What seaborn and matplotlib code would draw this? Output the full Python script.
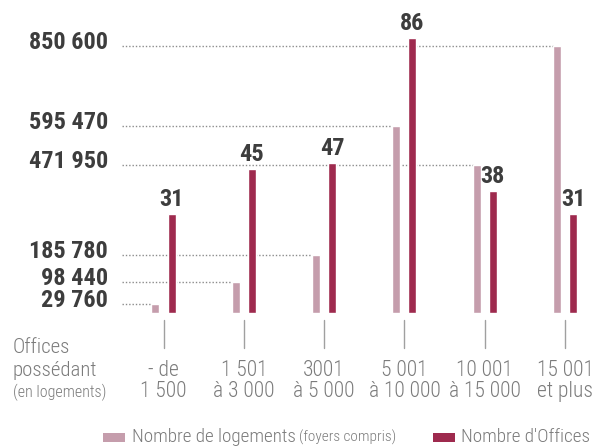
import numpy as np
import pandas as pd
import matplotlib
matplotlib.use("Agg")
import matplotlib.pyplot as plt
import seaborn as sns
from matplotlib import font_manager as fm
from matplotlib.transforms import blended_transform_factory
from matplotlib.patches import Rectangle
from matplotlib.lines import Line2D

# ---- data ----
cat_line1 = ["- de", "1 501", "3001", "5 001", "10 001", "15 001"]
cat_line2 = ["1 500", "à 3 000", "à 5 000", "à 10 000", "à 15 000", "et plus"]
logements = [29760, 98440, 185780, 595470, 471950, 850600]
offices = [31, 45, 47, 86, 38, 31]
axis_title = ["Offices", "possédant", "(en logements)"]
legend_main = ["Nombre de logements", "Nombre d'Offices"]
legend_note = "(foyers compris)"

# ---- style ----
PINK = "#c59dac"
RED = "#9e2a4e"
DARK = "#3d3d3d"
GREY = "#7b7b7b"
DOT = "#8c8c8c"
TICK = "#a0a0a0"

sns.set_theme(style="white")
names = {f.name for f in fm.fontManager.ttflist}
cond = None
for n in ["Roboto Condensed", "Liberation Sans Narrow", "Open Sans Condensed",
          "DejaVu Sans Condensed", "Noto Sans Condensed", "Arial Narrow"]:
    if n in names:
        cond = n
        break
plt.rcParams["font.family"] = [cond or "DejaVu Sans", "DejaVu Sans"]
LIGHT = "light" if cond else "normal"

W, H = 596, 447
fig = plt.figure(figsize=(W / 100, H / 100), dpi=100)
base_px, top_px = 313, 20
ax = fig.add_axes([0, (H - base_px) / H, 1, (base_px - top_px) / H])
ax2 = ax.twinx()

x0_px, step_px = 163.5, 80.3
def px2x(px):
    return (px - x0_px) / step_px

pos = np.arange(len(logements))
df = pd.DataFrame({"pos": pos, "logements": logements, "offices": offices})

sns.barplot(data=df.assign(x=df["pos"] - 0.1), x="x", y="logements",
            native_scale=True, width=0.1, color=PINK, saturation=1,
            errorbar=None, ax=ax, zorder=2)
sns.barplot(data=df.assign(x=df["pos"] + 0.1), x="x", y="offices",
            native_scale=True, width=0.1, color=RED, saturation=1,
            errorbar=None, ax=ax2, zorder=2)

ax.set_xlim(px2x(0), px2x(W))
ax.set_ylim(0, (base_px - top_px) / 267.0 * 850600)
ax2.set_ylim(0, (base_px - top_px) / ((base_px - 38) / 86.0))
for a in (ax, ax2):
    a.axis("off")

# dotted guides + left value labels
for i, v in enumerate(logements):
    ax.plot([px2x(122), i - 0.15], [v, v], color=DOT, lw=1,
            ls=(0, (1, 1.4)), zorder=1)
    ax.annotate(f"{v:,}".replace(",", " "), xy=(px2x(108), v),
                xytext=(0, -3 * 0.72), textcoords="offset points",
                ha="right", va="baseline", fontsize=17.5, weight="bold",
                color=DARK, annotation_clip=False)

# value labels on office bars
for i, v in enumerate(offices):
    ax2.annotate(str(v), xy=(i + 0.1, v), xytext=(0, 8 * 0.72),
                 textcoords="offset points", ha="center", va="baseline",
                 fontsize=17.5, weight="bold", color=DARK,
                 annotation_clip=False)

# category ticks and labels
blend = blended_transform_factory(ax.transData, fig.transFigure)
for i in pos:
    fig.add_artist(Line2D([i, i], [1 - 320 / H, 1 - 348 / H], transform=blend,
                          color=TICK, lw=1))
    ax.text(i, 1 - 376 / H, cat_line1[i], transform=blend, ha="center",
            va="baseline", fontsize=15.5, color=GREY, weight=LIGHT)
    ax.text(i, 1 - 397 / H, cat_line2[i], transform=blend, ha="center",
            va="baseline", fontsize=15.5, color=GREY, weight=LIGHT)

fig.text(13 / W, 1 - 353 / H, axis_title[0], ha="left", va="baseline",
         fontsize=15, color=GREY, weight=LIGHT)
fig.text(13 / W, 1 - 376 / H, axis_title[1], ha="left", va="baseline",
         fontsize=15, color=GREY, weight=LIGHT)
fig.text(13 / W, 1 - 397 / H, axis_title[2], ha="left", va="baseline",
         fontsize=11.5, color=GREY, weight=LIGHT)

# legend
fig.add_artist(Rectangle((103 / W, 1 - 442 / H), 22 / W, 9 / H,
                         transform=fig.transFigure, color=PINK, lw=0))
t1 = fig.text(132 / W, 1 - 442 / H, legend_main[0], ha="left", va="baseline",
              fontsize=13.8, color=GREY, weight=LIGHT)
ax.annotate(legend_note, xy=(1, 1 - 442 / H), xycoords=(t1, "figure fraction"),
            xytext=(2, 0), textcoords="offset points", ha="left",
            va="baseline", fontsize=11, color=GREY, weight=LIGHT,
            annotation_clip=False)
fig.add_artist(Rectangle((433 / W, 1 - 442 / H), 22 / W, 9 / H,
                         transform=fig.transFigure, color=RED, lw=0))
fig.text(461 / W, 1 - 442 / H, legend_main[1], ha="left", va="baseline",
         fontsize=13.8, color=GREY, weight=LIGHT)

fig.savefig("out.png", dpi=100)
